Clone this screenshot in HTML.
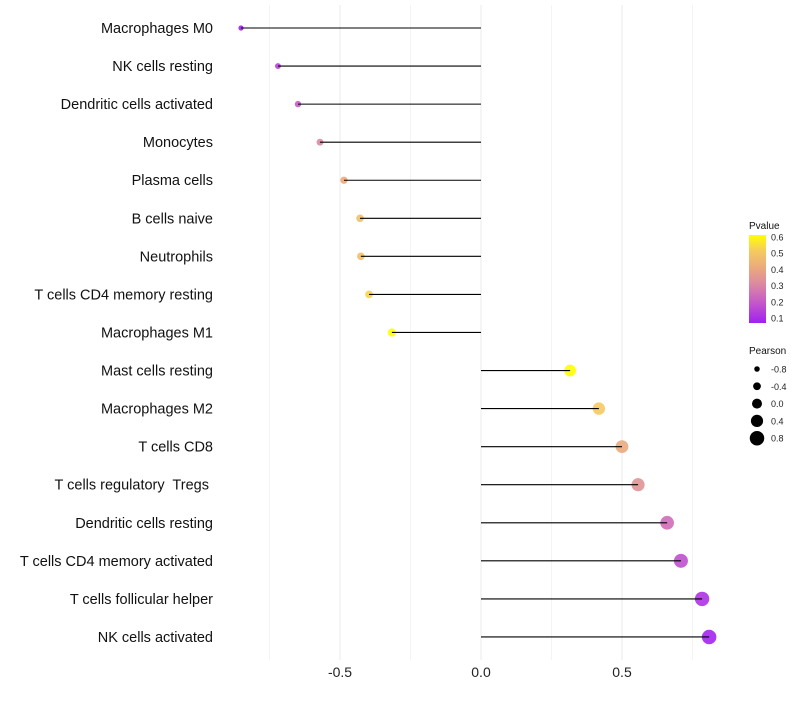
<!DOCTYPE html>
<html><head><meta charset="utf-8"><style>
body{margin:0;background:#fff;font-family:"Liberation Sans",sans-serif}
svg text{font-family:"Liberation Sans",sans-serif;white-space:pre}
</style></head><body>
<svg id="chart" width="800" height="700">
<defs><linearGradient id="pg" x1="0" y1="1" x2="0" y2="0">
<stop offset="0" stop-color="#A020F0"/><stop offset="0.24" stop-color="#C65AC8"/>
<stop offset="0.45" stop-color="#DC8AA0"/><stop offset="0.63" stop-color="#EBAA7C"/>
<stop offset="0.82" stop-color="#F5CA60"/><stop offset="1" stop-color="#FFFF00"/></linearGradient></defs>
<g id="grid"></g><g id="dots"></g><g id="marks"></g><g id="labels"></g><g id="legend"></g>
</svg>
<script>
const categories=["Macrophages M0","NK cells resting","Dendritic cells activated","Monocytes","Plasma cells","B cells naive","Neutrophils","T cells CD4 memory resting","Macrophages M1","Mast cells resting","Macrophages M2","T cells CD8","T cells regulatory  Tregs ","Dendritic cells resting","T cells CD4 memory activated","T cells follicular helper","NK cells activated"];
const pearson=[-0.851,-0.72,-0.649,-0.571,-0.486,-0.429,-0.426,-0.397,-0.316,0.316,0.418,0.5,0.557,0.66,0.709,0.784,0.809];
const pvalues=[0.08,0.15,0.2,0.3,0.4,0.47,0.47,0.52,0.6,0.6,0.5,0.4,0.33,0.24,0.18,0.12,0.09];
const xTicks=[-0.5,0,0.5];
const xTickLabels=["-0.5","0.0","0.5"];
const legendP=[0.6,0.5,0.4,0.3,0.2,0.1];
const legendS=[-0.8,-0.4,0.0,0.4,0.8];
const NS="http://www.w3.org/2000/svg";
const xs=v=>481+v*282;
const ys=i=>28+i*38.06;
const rs=v=>5+v*2.8;
const stops=[[0.08,[160,32,240]],[0.2,[198,90,200]],[0.3,[220,138,160]],[0.4,[235,170,124]],[0.5,[245,202,96]],[0.6,[255,255,0]]];
function col(p){p=Math.max(0.08,Math.min(0.6,p));for(let k=0;k<stops.length-1;k++){const a=stops[k],b=stops[k+1];if(p<=b[0]){const t=(p-a[0])/(b[0]-a[0]);return "rgb("+a[1].map((c,j)=>Math.round(c+(b[1][j]-c)*t)).join(",")+")";}}return "rgb(255,255,0)";}
function mk(tag,at,parent,txt){const e=document.createElementNS(NS,tag);for(const k in at)e.setAttribute(k,at[k]);if(txt!==undefined)e.textContent=txt;document.getElementById(parent).appendChild(e);return e;}
[-0.75,-0.25,0.25,0.75].forEach(v=>{const l=mk("line",{x1:xs(v),x2:xs(v),y1:5,y2:660,stroke:"#f4f4f4","stroke-width":1},"grid");

});
xTicks.forEach((v,i)=>{const l=mk("line",{x1:xs(v),x2:xs(v),y1:5,y2:660,stroke:"#ebebeb","stroke-width":1},"grid");


const t=mk("text",{x:xs(v),y:677,"text-anchor":"middle","font-size":14,fill:"#222"},"labels",xTickLabels[i]);

});
categories.forEach((c,i)=>{const y=ys(i);
const t=mk("text",{x:213,y:y+5,"text-anchor":"end","font-size":14.5,fill:"#111"},"labels",c);


const d=mk("circle",{cx:xs(pearson[i]),cy:y,r:rs(pearson[i]),fill:col(pvalues[i]),"fill-opacity":0.9},"dots");


const l=mk("line",{x1:xs(0),x2:xs(pearson[i]),y1:y,y2:y,stroke:"#000","stroke-width":1.1},"marks");

});
const lt=mk("text",{x:749,y:229,"font-size":10,fill:"#111"},"legend","Pvalue");


const bar=mk("rect",{x:749,y:235,width:17,height:88,fill:"url(#pg)"},"legend");


legendP.forEach(p=>{const y=318-(p-0.1)*162;
const t=mk("text",{x:771,y:y+3.5,"font-size":9,fill:"#222"},"legend",p.toFixed(1));

});
const st=mk("text",{x:749,y:354,"font-size":10,fill:"#111"},"legend","Pearson");


legendS.forEach((v,i)=>{const y=369+i*17.3;
const c=mk("circle",{cx:757,cy:y,r:rs(v),fill:"#000"},"legend");


const t=mk("text",{x:771,y:y+3.5,"font-size":9,fill:"#222"},"legend",v.toFixed(1));

});
</script>
</body></html>
